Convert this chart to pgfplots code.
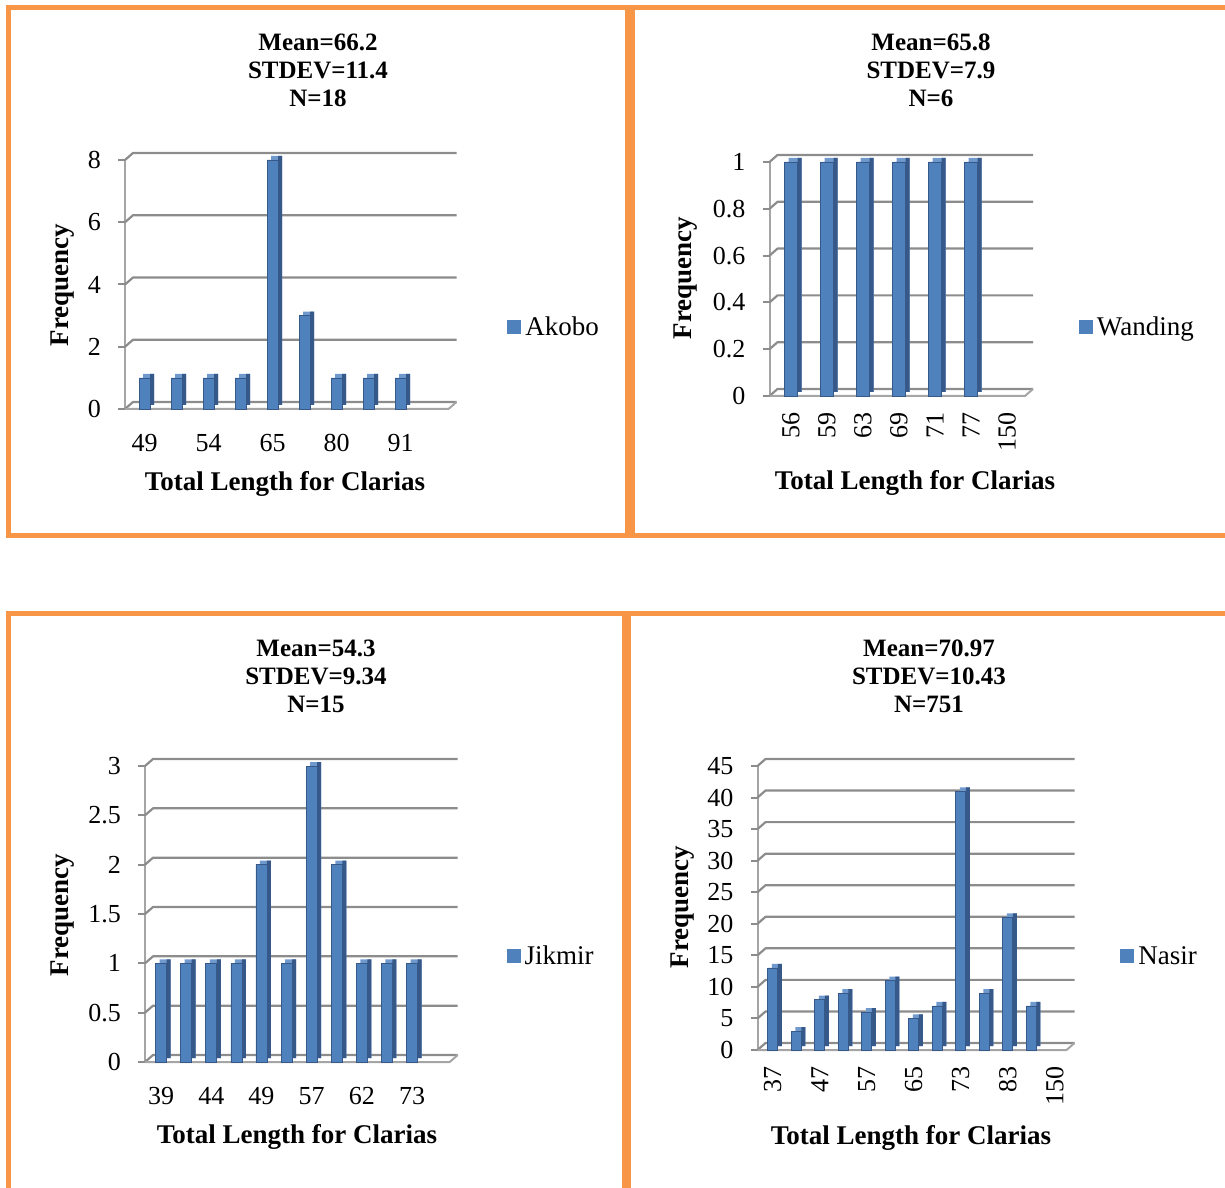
\documentclass[border=0pt]{standalone}
\usepackage{pgfplots}
\usepackage{pgfplotstable}
\pgfplotsset{compat=1.18}
\usepackage{fontspec}
\setmainfont{Liberation Serif}

\definecolor{frame}{HTML}{F79646}
\definecolor{barfront}{HTML}{4F81BD}
\definecolor{barside}{HTML}{36598A}
\definecolor{bartop}{HTML}{7099CE}
\definecolor{gridgray}{HTML}{8C8C8C}
\definecolor{floorgray}{HTML}{A5A5A5}

\newcommand\tickfont{\fontsize{26}{28}\selectfont}
\newcommand\legfont{\fontsize{27}{29}\selectfont}
\newcommand\labfont{\fontsize{27}{29}\selectfont\bfseries}
\newcommand\titfont{\fontsize{25}{28}\selectfont\bfseries}

% frequency tables (category index, count)
\pgfplotstableread{
x y
0 1
1 1
2 1
3 1
4 8
5 3
6 1
7 1
8 1
}\akobo
\pgfplotstableread{
x y
0 1
1 1
2 1
3 1
4 1
5 1
}\wanding
\pgfplotstableread{
x y
0 1
1 1
2 1
3 1
4 2
5 1
6 3
7 2
8 1
9 1
10 1
}\jikmir
\pgfplotstableread{
x y
0 13
1 3
2 8
3 9
4 6
5 11
6 5
7 7
8 41
9 9
10 21
11 7
}\nasir

\pgfplotsset{
  clarias/.style={
    scale only axis, anchor=south west,
    xmin=-0.5, ymin=0, clip=false,
    axis line style={draw=none}, tick style={draw=none},
    ticklabel style={font=\tickfont, inner sep=0pt},
    yticklabel style={anchor=east, xshift=-27.5pt},
    /pgf/number format/assume math mode=true,
    legend image code/.code={\fill[barfront] (0pt,-6.5pt) rectangle (13pt,6.5pt);},
    legend style={draw=none, fill=none, font=\legfont, inner sep=0pt,
      anchor=west, nodes={inner sep=4.5pt}},
  },
  flatlabels/.style={xticklabel style={anchor=north, yshift=-25pt}},
  rotlabels/.style={xticklabel style={yshift=-16pt, rotate=90, anchor=east}},
}

% back wall with gridlines, left axis with ticks, and floor
\newcommand\wall[3]{% #1 tick values, #2 xmax, #3 ymax
  \draw[floorgray, line width=2pt] ([xshift=-3.5pt]axis cs:-0.5,0) -- ([xshift=-3.5pt]axis cs:-0.5,#3);
  \pgfplotsinvokeforeach{#1}{
    \draw[gridgray, line width=2.2pt, line join=round]
      ([xshift=-3.5pt]axis cs:-0.5,##1) -- ([xshift=4.5pt,yshift=7pt]axis cs:-0.5,##1)
      -- ([xshift=8pt,yshift=7pt]axis cs:#2,##1);
    \draw[gridgray, line width=2pt] ([xshift=-10.5pt]axis cs:-0.5,##1) -- ([xshift=-3.5pt]axis cs:-0.5,##1);
  }
  \draw[floorgray, line width=2pt, line join=round] ([xshift=-3.5pt]axis cs:-0.5,0) -- (axis cs:#2,0)
    -- ([xshift=8pt,yshift=7pt]axis cs:#2,0);
}

% 3-D looking columns: top/back face, side face, front face
\newcommand\columns[3]{% #1 table, #2 front width, #3 side shift
  \addplot[ybar, bar width=#2pt, bar shift=4pt, yshift=4pt, fill=bartop, draw=none, forget plot] table {#1};
  \addplot[ybar, bar width=4pt, bar shift=#3pt, yshift=4pt, fill=barside, draw=none, forget plot] table {#1};
  \addplot[ybar, bar width=#2pt, bar shift=0pt, fill=barfront, draw=barside, line width=0.6pt] table {#1};
}

\begin{document}
\begin{tikzpicture}[x=1pt, y=1pt]
\useasboundingbox (0,0) rectangle (1225,1187);

% panel frames
\begin{scope}
  \clip (0,0) rectangle (1225,1187);
  \draw[frame, line width=5pt] (8,651.5) rectangle (627.5,1179);
  \draw[frame, line width=5pt] (632.5,651.5) rectangle (1240,1179);
  \draw[frame, line width=5pt] (8,-20) rectangle (624,573.5);
  \draw[frame, line width=5pt] (628.5,-20) rectangle (1240,573.5);
\end{scope}

% ---------------- Akobo ----------------
\begin{axis}[clarias, flatlabels, at={(128.5pt,778pt)}, width=320pt, height=249pt,
  xmax=9.5, ymax=8, ytick={0,2,4,6,8},
  xtick={0,2,4,6,8}, xticklabels={49,54,65,80,91},
  legend style={at={(1.183,0.33)}}]
  \wall{0,2,4,6,8}{9.5}{8}
  \columns{\akobo}{11}{7.5}
  \addlegendentry{Akobo}
\end{axis}
\node[font=\titfont, align=center] at (318,1117) {Mean=66.2\\STDEV=11.4\\N=18};
\node[font=\labfont] at (285,703) {Total Length for Clarias};
\node[font=\labfont, rotate=90] at (63,902) {Frequency};

% ---------------- Wanding ----------------
\begin{axis}[clarias, rotlabels, at={(773pt,791pt)}, width=252pt, height=234pt,
  xmax=6.5, ymax=1, ytick={0,0.2,0.4,0.6,0.8,1},
  xtick={0,1,2,3,4,5,6}, xticklabels={56,59,63,69,71,77,150},
  legend style={at={(1.213,0.295)}}]
  \wall{0,0.2,0.4,0.6,0.8,1}{6.5}{1}
  \columns{\wanding}{13}{8.5}
  \addlegendentry{Wanding}
\end{axis}
\node[font=\titfont, align=center] at (931,1117) {Mean=65.8\\STDEV=7.9\\N=6};
\node[font=\labfont] at (915,704) {Total Length for Clarias};
\node[font=\labfont, rotate=90] at (686,909) {Frequency};

% ---------------- Jikmir ----------------
\begin{axis}[clarias, flatlabels, at={(148.5pt,125pt)}, width=301.2pt, height=296pt,
  xmax=11.5, ymax=3, ytick={0,0.5,1,1.5,2,2.5,3},
  xtick={0,2,4,6,8,10}, xticklabels={39,44,49,57,62,73},
  legend style={at={(1.188,0.358)}}]
  \wall{0,0.5,1,1.5,2,2.5,3}{11.5}{3}
  \columns{\jikmir}{11}{7.5}
  \addlegendentry{Jikmir}
\end{axis}
\node[font=\titfont, align=center] at (316,511) {Mean=54.3\\STDEV=9.34\\N=15};
\node[font=\labfont] at (297,50) {Total Length for Clarias};
\node[font=\labfont, rotate=90] at (63,272) {Frequency};

% ---------------- Nasir ----------------
\begin{axis}[clarias, rotlabels, at={(761pt,137pt)}, width=305.5pt, height=284pt,
  xmax=12.5, ymax=45, ytick={0,5,10,15,20,25,30,35,40,45},
  xtick={0,2,4,6,8,10,12}, xticklabels={37,47,57,65,73,83,150},
  legend style={at={(1.175,0.331)}}]
  \wall{0,5,10,15,20,25,30,35,40,45}{12.5}{45}
  \columns{\nasir}{10}{7}
  \addlegendentry{Nasir}
\end{axis}
\node[font=\titfont, align=center] at (929,511) {Mean=70.97\\STDEV=10.43\\N=751};
\node[font=\labfont] at (911,49) {Total Length for Clarias};
\node[font=\labfont, rotate=90] at (683,280) {Frequency};
\end{tikzpicture}
\end{document}
